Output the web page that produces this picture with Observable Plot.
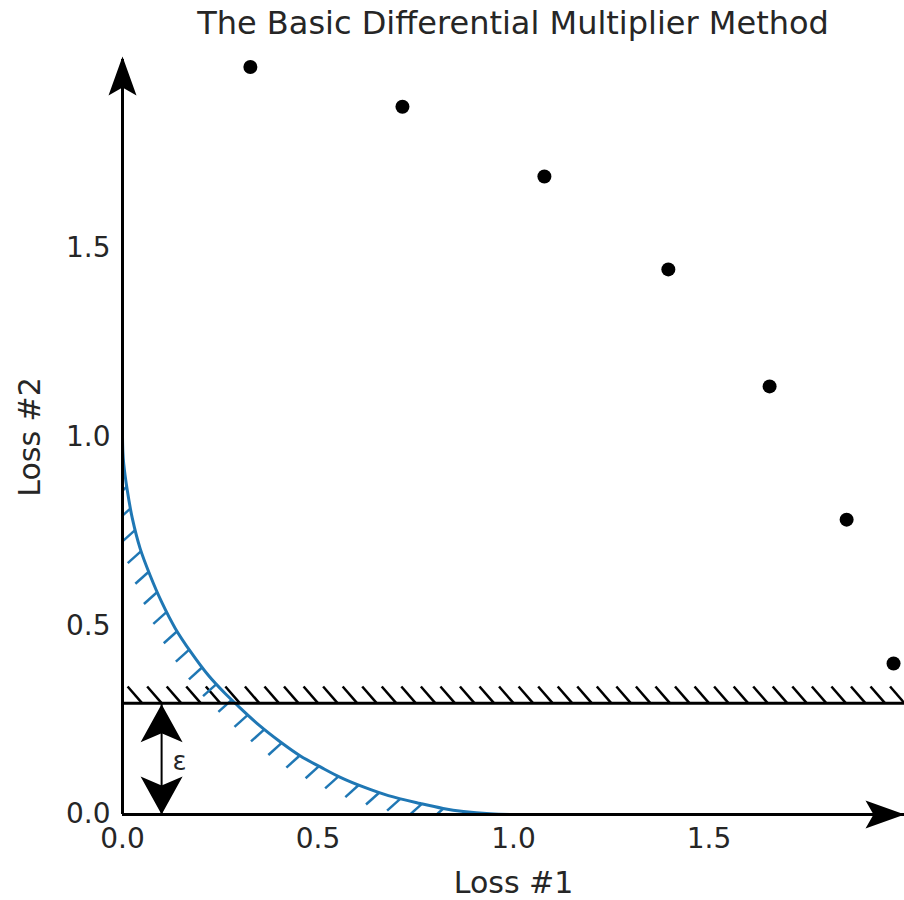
<!DOCTYPE html>
<html><head><meta charset="utf-8">
<script src="https://cdn.jsdelivr.net/npm/d3@7"></script>
<script src="https://cdn.jsdelivr.net/npm/@observablehq/plot@0.6"></script>
<style>
body{margin:0;background:#fff;font-family:"DejaVu Sans",sans-serif;}
#title{height:40px;line-height:46px;text-align:center;padding-left:122px;font-size:32px;color:#262626;white-space:nowrap;}
</style></head><body>
<div id="title"></div>
<div id="chart"></div>
<script>
// ---- data ----
const titleText = "The Basic Differential Multiplier Method";
const xLabel = "Loss #1";
const yLabel = "Loss #2";
const xTicks = [0, 0.5, 1.0, 1.5];
const yTicks = [0, 0.5, 1.0, 1.5];
const xDomain = [0, 2];
const yDomain = [0, 2];
const dotX = [0.327, 0.716, 1.079, 1.396, 1.655, 1.852, 1.972];
const dotY = [1.98, 1.875, 1.69, 1.444, 1.134, 0.781, 0.40];
const curveX = [0, 0.001, 0.003, 0.012, 0.025, 0.045, 0.07, 0.1, 0.135, 0.175, 0.22, 0.26, 0.29, 0.35, 0.404, 0.455, 0.506, 0.56, 0.616, 0.68, 0.762, 0.82, 0.872, 0.94, 1.0];
const curveY = [1.0, 0.96, 0.93, 0.86, 0.785, 0.705, 0.635, 0.563, 0.493, 0.43, 0.368, 0.323, 0.293, 0.236, 0.192, 0.155, 0.126, 0.097, 0.073, 0.05, 0.029, 0.016, 0.008, 0.002, 0];
const epsilon = 0.295;
const epsArrowX = 0.1;
const epsLabel = "ε";
const epsLabelX = 0.128;
const epsLabelY = 0.14;

// ---- layout ----
const W = 904, H = 860, mL = 122, mR = 0, mT = 19, mB = 86;
const kx = (W - mL - mR) / (xDomain[1] - xDomain[0]);
const ky = (H - mT - mB) / (yDomain[1] - yDomain[0]);
const blue = "#1f77b4";

document.getElementById("title").textContent = titleText;

const dots = dotX.map((x, i) => ({x, y: dotY[i]}));
const curve = curveX.map((x, i) => ({x, y: curveY[i]}));

// hatch ticks on the constraint line
const hatchStep = 0.05;
const hLen = 22, hAng = 229 * Math.PI / 180; // screen angle (y down)
const hHatch = d3.range(0, xDomain[1] + 1e-9, hatchStep).map(x => ({
  x1: x, y1: epsilon,
  x2: x + Math.cos(hAng) * hLen / kx, y2: epsilon - Math.sin(hAng) * hLen / ky
}));

// hatch ticks along the blue curve, equal spacing in screen arc length
const spacing = 22, bLen = 18, bAng = 138 * Math.PI / 180;
const pts = curve.map(d => [d.x * kx, -d.y * ky]);
const cum = [0];
for (let i = 1; i < pts.length; i++) cum.push(cum[i-1] + Math.hypot(pts[i][0]-pts[i-1][0], pts[i][1]-pts[i-1][1]));
const bHatch = [];
for (let s = 6; s < cum[cum.length-1]; s += spacing) {
  let i = 1; while (cum[i] < s) i++;
  const t = (s - cum[i-1]) / (cum[i] - cum[i-1]);
  const x = curve[i-1].x + t * (curve[i].x - curve[i-1].x);
  const y = curve[i-1].y + t * (curve[i].y - curve[i-1].y);
  bHatch.push({x1: x, y1: y, x2: x + Math.cos(bAng) * bLen / kx, y2: y - Math.sin(bAng) * bLen / ky});
}

// filled dart arrowheads
function dart(dir, L, Wd, N, over) {
  const rot = {up: [0,-1], down: [0,1], right: [1,0]}[dir];
  const f = (a, b) => { const [ux, uy] = rot; return [ux * a - uy * b, uy * a + ux * b]; };
  return {draw(ctx) {
    const p = [f(over, 0), f(over - L, Wd/2), f(over - L + N, 0), f(over - L, -Wd/2)];
    ctx.moveTo(...p[0]); for (let k = 1; k < p.length; k++) ctx.lineTo(...p[k]); ctx.closePath();
  }};
}

const chart = Plot.plot({
  width: W, height: H,
  marginLeft: mL, marginRight: mR, marginTop: mT, marginBottom: mB,
  style: {fontFamily: "DejaVu Sans, sans-serif", fontSize: "28px", color: "#262626", background: "white", overflow: "visible"},
  x: {domain: xDomain, ticks: xTicks, tickFormat: d3.format(".1f"), tickSize: 0, tickPadding: 14, label: null},
  y: {domain: yDomain, ticks: yTicks, tickFormat: d3.format(".1f"), tickSize: 0, tickPadding: 12, label: null},
  marks: [
    Plot.link(hHatch, {x1: "x1", y1: "y1", x2: "x2", y2: "y2", stroke: "black", strokeWidth: 2.5, clip: true}),
    Plot.link(bHatch, {x1: "x1", y1: "y1", x2: "x2", y2: "y2", stroke: blue, strokeWidth: 2.5, clip: true}),
    Plot.line(curve, {x: "x", y: "y", stroke: blue, strokeWidth: 3, curve: "catmull-rom", clip: true}),
    Plot.ruleY([epsilon], {x1: xDomain[0], x2: xDomain[1], stroke: "black", strokeWidth: 3}),
    Plot.ruleY([0], {x1: xDomain[0], x2: xDomain[1], stroke: "black", strokeWidth: 3}),
    Plot.ruleX([0], {y1: yDomain[0], y2: yDomain[1], stroke: "black", strokeWidth: 3}),
    Plot.ruleX([epsArrowX], {y1: 0, y2: epsilon, stroke: "black", strokeWidth: 2}),
    Plot.dot([{x: 0, y: yDomain[1]}], {x: "x", y: "y", r: 5, symbol: dart("up", 39, 28, 8, 3), fill: "black", stroke: "none"}),
    Plot.dot([{x: xDomain[1], y: 0}], {x: "x", y: "y", r: 5, symbol: dart("right", 39, 28, 8, 0), fill: "black", stroke: "none"}),
    Plot.dot([{x: epsArrowX, y: epsilon}], {x: "x", y: "y", r: 5, symbol: dart("up", 38, 42, 9, -1), fill: "black", stroke: "none"}),
    Plot.dot([{x: epsArrowX, y: 0}], {x: "x", y: "y", r: 5, symbol: dart("down", 38, 42, 9, 0), fill: "black", stroke: "none"}),
    Plot.dot(dots, {x: "x", y: "y", r: 7, fill: "black", stroke: "none"}),
    Plot.text([epsLabel], {x: epsLabelX, y: epsLabelY, text: d => d, textAnchor: "start", fontSize: 26, fill: "#262626"}),
    Plot.text([xLabel], {frameAnchor: "bottom", dy: 69, text: d => d, textAnchor: "middle", lineAnchor: "middle", fontSize: 30, fill: "#262626"}),
    Plot.text([yLabel], {frameAnchor: "left", dx: -92, rotate: -90, text: d => d, textAnchor: "middle", lineAnchor: "middle", fontSize: 30, fill: "#262626"})
  ]
});
document.getElementById("chart").appendChild(chart);
</script>
</body></html>
